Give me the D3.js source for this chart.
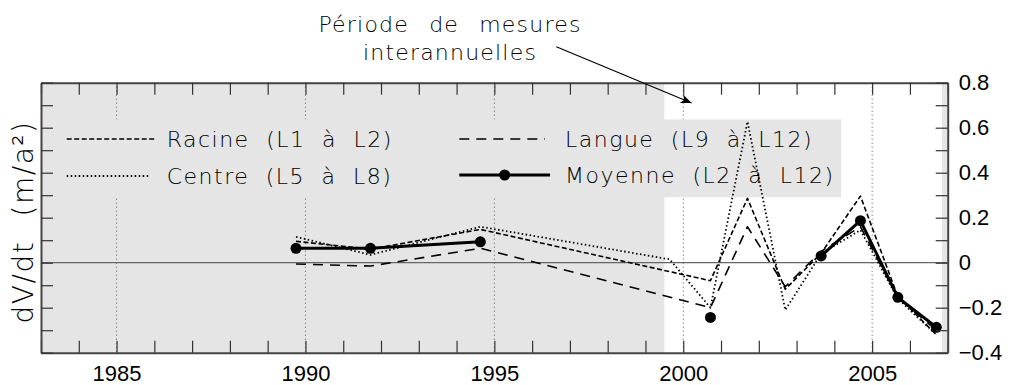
<!DOCTYPE html>
<html><head><meta charset="utf-8">
<script src="https://cdn.jsdelivr.net/npm/d3@7"></script>
<style>
body{margin:0;background:#fff;}
svg{display:block;font-family:"DejaVu Sans",sans-serif;font-weight:200;}
</style></head><body>
<svg id="chart" width="1013" height="385"></svg>
<script>
// ---- data ----
const xLabelYears = [1985, 1990, 1995, 2000, 2005];
const yLabelValues = [-0.4, -0.2, 0, 0.2, 0.4, 0.6, 0.8];
const yLabelTexts = ["\u22120.4", "\u22120.2", "0", "0.2", "0.4", "0.6", "0.8"];
const years = [1989.75, 1991.72, 1994.63, 2000.72, 2001.70, 2002.70, 2003.65, 2004.69, 2005.68, 2006.70];
const racine = [0.095, 0.060, 0.148, -0.080, 0.286, -0.118, 0.042, 0.296, -0.150, -0.320];
const langue = [-0.006, -0.015, 0.064, -0.200, 0.160, -0.107, 0.050, 0.160, -0.155, -0.300];
const centreYears = [1989.75, 1991.72, 1994.63, 1999.64, 2000.72, 2001.70, 2002.70, 2003.65, 2004.69, 2005.68, 2006.70];
const centre = [0.115, 0.035, 0.160, 0.015, -0.200, 0.627, -0.210, 0.040, 0.145, -0.160, -0.320];
// Moyenne has no value in the 1995-2000 gap nor in 2001.7 / 2002.7 (line breaks there)
const moyenneYears = [1989.75, 1991.72, 1994.63, 1997.70, 2000.72, 2001.70, 2002.70, 2003.65, 2004.69, 2005.68, 2006.70];
const moyenne = [0.064, 0.064, 0.093, null, -0.243, null, null, 0.030, 0.187, -0.154, -0.287];
const legendLabels = ["Racine (L1 \u00e0 L2)", "Centre (L5 \u00e0 L8)", "Langue (L9 \u00e0 L12)", "Moyenne (L2 \u00e0 L12)"];
const yTitle = "dV/dt (m/a\u00b2)";
const noteLines = ["P\u00e9riode de mesures", "interannuelles"];
const shadeSpans = [[1983, 1999.5], [2006.85, 2007]];
const arrowFrom = [1996.64, 0.96];
const arrowTo = [2000.22, 0.71];

// ---- layout ----
const svg = d3.select("#chart");
const L = 41, R = 947.7, T = 82.7, B = 352.7;
const x = d3.scaleLinear().domain([1983, 2007]).range([L, R]);
const y = d3.scaleLinear().domain([-0.4, 0.8]).range([B, T]);
const ink = "#000";

// shading
svg.append("g").selectAll("rect").data(shadeSpans).join("rect")
  .attr("x", d => x(d[0])).attr("y", T)
  .attr("width", d => x(d[1]) - x(d[0])).attr("height", B - T)
  .attr("fill", "#e5e5e5");

// dotted grid
svg.append("g").selectAll("line").data(xLabelYears).join("line")
  .attr("x1", d => x(d)).attr("x2", d => x(d)).attr("y1", T).attr("y2", B)
  .attr("stroke", "#555").attr("stroke-width", 1).attr("stroke-dasharray", "1,3");

// legend box
const lbX0 = 1983.3, lbX1 = 2004.18, lbY0 = 0.637, lbY1 = 0.291;
svg.append("rect")
  .attr("x", x(lbX0)).attr("y", y(lbY0))
  .attr("width", x(lbX1) - x(lbX0)).attr("height", y(lbY1) - y(lbY0))
  .attr("fill", "#e5e5e5");

// zero line
svg.append("line").attr("x1", L).attr("x2", R).attr("y1", y(0)).attr("y2", y(0))
  .attr("stroke", "#666").attr("stroke-width", 1.2);

// series
const styles = {
  racine: {dash: "5,2.5", w: 1.6},
  centre: {dash: "1.5,2.5", w: 1.8},
  langue: {dash: "10,7", w: 1.6},
  moyenne: {dash: null, w: 3}
};
const line = d3.line().defined(d => d[1] != null).x(d => x(d[0])).y(d => y(d[1]));
function drawSeries(xs, vs, st) {
  svg.append("path").datum(xs.map((v, i) => [v, vs[i]]))
    .attr("d", line).attr("fill", "none").attr("stroke", "#000")
    .attr("stroke-width", st.w).attr("stroke-dasharray", st.dash)
    .attr("stroke-linejoin", "round");
}
drawSeries(years, racine, styles.racine);
drawSeries(centreYears, centre, styles.centre);
drawSeries(years, langue, styles.langue);
drawSeries(moyenneYears, moyenne, styles.moyenne);
svg.append("g").selectAll("circle")
  .data(moyenneYears.map((v, i) => [v, moyenne[i]]).filter(d => d[1] != null))
  .join("circle").attr("cx", d => x(d[0])).attr("cy", d => y(d[1])).attr("r", 5.5).attr("fill", "#000");

// axes (ticks inward on all sides)
const yearTicks = d3.range(1983, 2008);
const valTicks = d3.range(-4, 9).map(v => v / 10);
function styleAxis(g) {
  g.selectAll(".domain").attr("stroke", "#444").attr("stroke-width", 2);
  g.selectAll(".tick line").attr("stroke", "#333").attr("stroke-width", 1.2);
}
svg.append("g").attr("transform", `translate(0,${B})`)
  .call(d3.axisBottom(x).tickValues(yearTicks).tickSize(-12).tickSizeOuter(0).tickFormat(""))
  .call(styleAxis);
svg.append("g").attr("transform", `translate(0,${T})`)
  .call(d3.axisTop(x).tickValues(yearTicks).tickSize(-12).tickSizeOuter(0).tickFormat(""))
  .call(styleAxis);
svg.append("g").attr("transform", `translate(${L},0)`)
  .call(d3.axisLeft(y).tickValues(valTicks).tickSize(-12).tickSizeOuter(0).tickFormat(""))
  .call(styleAxis);
svg.append("g").attr("transform", `translate(${R},0)`)
  .call(d3.axisRight(y).tickValues(valTicks).tickSize(-12).tickSizeOuter(0).tickFormat(""))
  .call(styleAxis);

// tick labels
const xl = svg.append("g").attr("transform", `translate(0,${B})`)
  .call(d3.axisBottom(x).tickValues(xLabelYears).tickSize(0).tickPadding(13).tickFormat(d3.format("d")));
xl.select(".domain").remove();
xl.selectAll("text").attr("font-size", 22).attr("fill", ink).attr("font-family", null);
const yl = svg.append("g").attr("transform", `translate(${R},0)`)
  .call(d3.axisRight(y).tickValues(yLabelValues).tickSize(0).tickPadding(11)
    .tickFormat((d, i) => yLabelTexts[i]));
yl.select(".domain").remove();
yl.selectAll("text").attr("font-size", 22).attr("fill", ink).attr("font-family", null);

// y title
svg.append("text").attr("transform", "translate(33,222) rotate(-90)")
  .attr("text-anchor", "middle").attr("font-size", 28).attr("fill", ink)
  .style("word-spacing", "14px").style("letter-spacing", "1.5px").text(yTitle);

// legend
const legendItems = [
  {label: legendLabels[0], st: styles.racine, x0: 66.7, x1: 155, tx: 166.7, ty: 139},
  {label: legendLabels[1], st: styles.centre, x0: 66.7, x1: 150, tx: 166.7, ty: 176},
  {label: legendLabels[2], st: styles.langue, x0: 459.3, x1: 545, tx: 565, ty: 139},
  {label: legendLabels[3], st: styles.moyenne, x0: 459.3, x1: 550, tx: 565, ty: 175, dot: true}
];
const lg = svg.append("g").selectAll("g").data(legendItems).join("g");
lg.append("line").attr("x1", d => d.x0).attr("x2", d => d.x1).attr("y1", d => d.ty).attr("y2", d => d.ty)
  .attr("stroke", "#000").attr("stroke-width", d => d.st.w).attr("stroke-dasharray", d => d.st.dash);
lg.filter(d => d.dot).append("circle").attr("cx", d => (d.x0 + d.x1) / 2).attr("cy", d => d.ty)
  .attr("r", 5.5).attr("fill", "#000");
lg.append("text").attr("x", d => d.tx).attr("y", d => d.ty).attr("dy", "0.35em")
  .attr("font-size", 22).attr("fill", ink)
  .style("letter-spacing", "1.5px").style("word-spacing", "8px").text(d => d.label);

// annotation
svg.append("g").selectAll("text").data(noteLines).join("text")
  .attr("x", 450).attr("y", (d, i) => 32 + i * 28).attr("text-anchor", "middle")
  .attr("font-size", 22).attr("fill", ink)
  .style("letter-spacing", "1.2px").style("word-spacing", "12px").text(d => d);
const ax0 = x(arrowFrom[0]), ay0 = y(arrowFrom[1]), ax1 = x(arrowTo[0]), ay1 = y(arrowTo[1]);
svg.append("line").attr("x1", ax0).attr("y1", ay0).attr("x2", ax1).attr("y2", ay1)
  .attr("stroke", "#000").attr("stroke-width", 1.2);
const ang = Math.atan2(ay1 - ay0, ax1 - ax0) * 180 / Math.PI;
svg.append("path").attr("d", "M0,0 L-11,-4.5 L-8,0 L-11,4.5 Z")
  .attr("transform", `translate(${ax1},${ay1}) rotate(${ang})`).attr("fill", "#000");
</script>
</body></html>
